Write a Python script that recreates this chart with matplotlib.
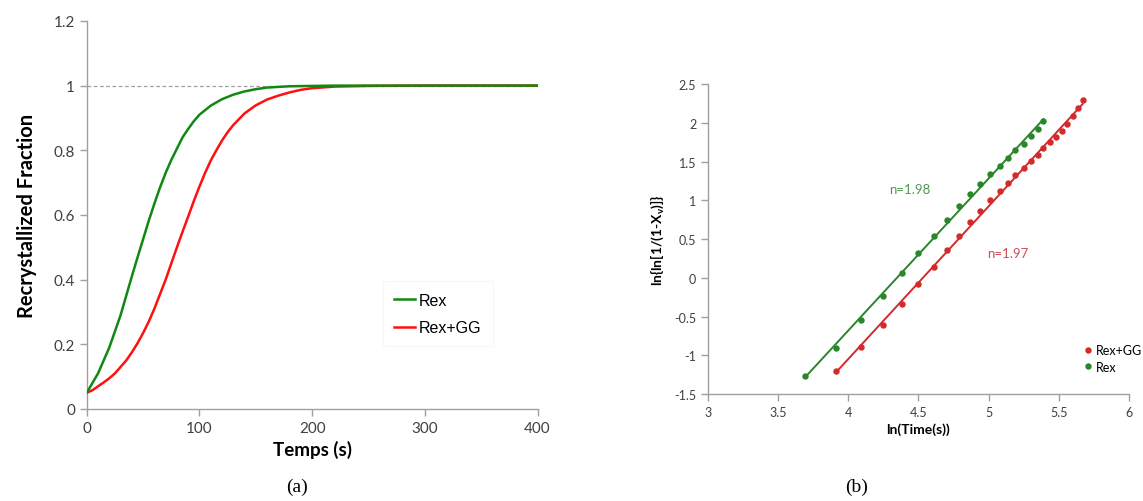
import numpy as np
import matplotlib
matplotlib.use("Agg")
import matplotlib.pyplot as plt

# (a) recrystallized fraction vs time
t_rex = [0, 5, 10, 15, 20, 25, 30, 35, 40, 45, 50, 55, 60, 65, 70, 75, 80, 85, 90, 95, 100,
         110, 120, 130, 140, 150, 160, 170, 180, 200, 220, 250, 300, 400]
x_rex = [0.05, 0.08, 0.11, 0.15, 0.19, 0.24, 0.29, 0.35, 0.41, 0.468, 0.525, 0.582, 0.635, 0.685,
         0.73, 0.77, 0.805, 0.84, 0.866, 0.89, 0.91, 0.938, 0.958, 0.972, 0.982, 0.989, 0.994,
         0.996, 0.998, 0.999, 1.0, 1.0, 1.0, 1.0]
t_gg = [0, 5, 10, 15, 20, 25, 30, 35, 40, 45, 50, 55, 60, 65, 70, 75, 80, 85, 90, 95, 100, 105,
        110, 115, 120, 125, 130, 140, 150, 160, 170, 180, 190, 200, 220, 250, 300, 400]
x_gg = [0.05, 0.058, 0.07, 0.082, 0.095, 0.11, 0.13, 0.15, 0.175, 0.203, 0.235, 0.27, 0.31, 0.355,
        0.40, 0.45, 0.50, 0.548, 0.595, 0.643, 0.688, 0.73, 0.768, 0.80, 0.83, 0.856, 0.878, 0.914,
        0.939, 0.957, 0.969, 0.979, 0.987, 0.992, 0.997, 0.999, 1.0, 1.0]

# (b) Avrami plot points
lnt_rex = [3.69, 3.91, 4.09, 4.25, 4.38, 4.50, 4.61, 4.70, 4.79, 4.87, 4.94, 5.01, 5.08, 5.14, 5.19,
           5.25, 5.30, 5.35, 5.39]
y_rex = [-1.27, -0.90, -0.55, -0.235, 0.057, 0.315, 0.543, 0.745, 0.926, 1.076, 1.21, 1.334, 1.446,
         1.545, 1.648, 1.73, 1.829, 1.919, 2.023]
lnt_gg = [3.91, 4.09, 4.25, 4.38, 4.50, 4.61, 4.70, 4.79, 4.87, 4.94, 5.01, 5.08, 5.14, 5.19, 5.25,
          5.30, 5.35, 5.39, 5.44, 5.48, 5.52, 5.56, 5.60, 5.64, 5.67]
y_gg = [-1.208, -0.894, -0.614, -0.339, -0.085, 0.139, 0.354, 0.543, 0.715, 0.866, 0.999, 1.119, 1.227,
        1.33, 1.42, 1.511, 1.584, 1.67, 1.747, 1.82, 1.898, 1.984, 2.087, 2.186, 2.298]

plt.rcParams['font.family'] = ['Lato', 'DejaVu Sans']
axis_grey = '#a0a0a0'

fig = plt.figure(figsize=(11.43, 5.02), dpi=100)

# ---- (a)
ax1 = fig.add_axes([0.0759, 0.1833, 0.3944, 0.773])
ax1.axhline(1, color='#a0a0a0', lw=0.9, ls=(0, (3, 2)), zorder=1)
ax1.plot(t_rex, x_rex, color='#118811', lw=1.8, label='Rex', zorder=3)
ax1.plot(t_gg, x_gg, color='#ff1010', lw=1.8, label='Rex+GG', zorder=2)
ax1.set_xlim(0, 400)
ax1.set_ylim(0, 1.2)
ax1.set_xticks([0, 100, 200, 300, 400])
ax1.set_yticks([0, 0.2, 0.4, 0.6, 0.8, 1.0, 1.2])
ax1.set_yticklabels(['0', '0.2', '0.4', '0.6', '0.8', '1', '1.2'])
ax1.set_xlabel('Temps (s)', fontsize=13.5, fontweight='bold', labelpad=4)
ax1.set_ylabel('Recrystallized Fraction', fontsize=14.5, fontweight='bold', labelpad=12)
leg1 = ax1.legend(loc='center left', bbox_to_anchor=(0.64, 0.245),
                  prop={'family': 'Liberation Sans', 'size': 11.5}, handlelength=1.3,
                  handletextpad=0.25, labelspacing=0.8, frameon=True, fancybox=False, borderpad=0.7)
leg1.get_frame().set_edgecolor('#f6f6f6')
leg1.get_frame().set_linewidth(0.8)

# ---- (b)
ax2 = fig.add_axes([0.6194, 0.2131, 0.3683, 0.6175])
for xs, ys, col, lab in [(lnt_gg, y_gg, '#d42a2a', 'Rex+GG'), (lnt_rex, y_rex, '#2a862a', 'Rex')]:
    ax2.plot(xs, ys, 'o', color=col, ms=3.6, label=lab)
    k, b = np.polyfit(xs, ys, 1)
    xl = np.array([min(xs), max(xs)])
    ax2.plot(xl, k * xl + b, color=col, lw=1.4)
ax2.text(4.435, 1.145, 'n=1.98', color='#4f9a4f', fontsize=9.5, ha='center', va='center')
ax2.text(5.134, 0.315, 'n=1.97', color='#c8505a', fontsize=9.5, ha='center', va='center')
ax2.set_xlim(3, 6)
ax2.set_ylim(-1.5, 2.5)
ax2.set_xticks([3, 3.5, 4, 4.5, 5, 5.5, 6])
ax2.set_xticklabels(['3', '3.5', '4', '4.5', '5', '5.5', '6'])
ax2.set_yticks([-1.5, -1, -0.5, 0, 0.5, 1, 1.5, 2, 2.5])
ax2.set_yticklabels(['-1.5', '-1', '-0.5', '0', '0.5', '1', '1.5', '2', '2.5'])
ax2.set_xlabel('ln(Time(s))', fontsize=10, fontweight='bold', labelpad=3)
ax2.set_ylabel(r'ln{ln[1/(1-X$_\mathregular{v}$)]}', fontsize=10, fontweight='bold', labelpad=6)
ax2.legend(loc='center left', bbox_to_anchor=(0.88, 0.115), fontsize=9, frameon=False,
           handlelength=0.6, handletextpad=0.3, labelspacing=0.35, borderpad=0)

for ax, fs in [(ax1, 11), (ax2, 9)]:
    for s in ['top', 'right']:
        ax.spines[s].set_visible(False)
    for s in ['left', 'bottom']:
        ax.spines[s].set_color(axis_grey)
        ax.spines[s].set_linewidth(1.0)
    ax.tick_params(colors=axis_grey, labelcolor='#404040', labelsize=fs, length=5, width=1.0)

fig.text(0.26, 0.03, '(a)', fontsize=14, family='Liberation Serif', ha='center', va='center')
fig.text(0.749, 0.03, '(b)', fontsize=14, family='Liberation Serif', ha='center', va='center')

fig.savefig('out.png', dpi=100)
